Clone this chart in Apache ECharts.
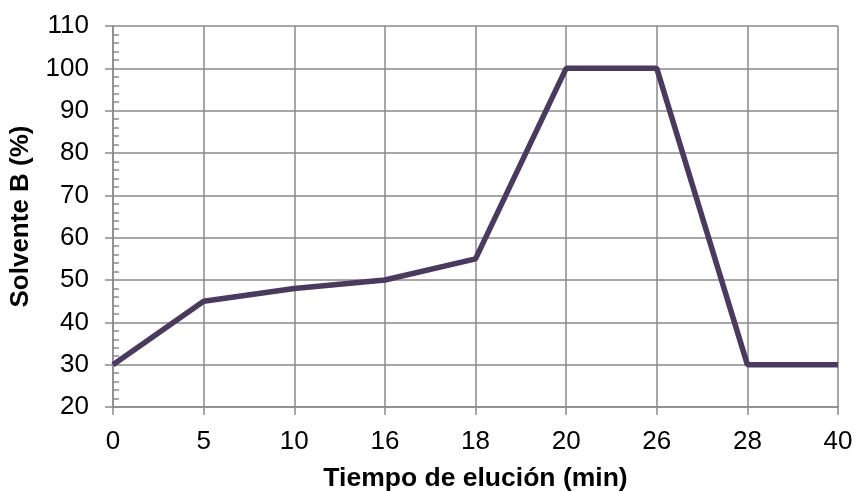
<!DOCTYPE html>
<html><head><meta charset="utf-8">
<script src="https://cdn.jsdelivr.net/npm/echarts@6/dist/echarts.min.js"></script>
<style>html,body{margin:0;padding:0;background:#fff}#c{width:854px;height:491px}</style>
</head><body><div id="c"></div>
<script>
const categories = ['0','5','10','16','18','20','26','28','40'];
const solventeB = [30,45,48,50,55,100,100,30,30];
const yTicks = {min:20, max:110, interval:10};

const chart = echarts.init(document.getElementById('c'));
const font = 'Liberation Sans, Arial, sans-serif';
chart.setOption({
  animation:false,
  grid:{left:113,right:16,top:26,bottom:84,containLabel:false,outerBoundsMode:'none'},
  xAxis:{
    type:'category', data:categories, boundaryGap:false,
    name:'Tiempo de elución (min)', nameLocation:'middle', nameGap:58,
    nameTextStyle:{fontFamily:font,fontSize:26.5,fontWeight:'bold',color:'#000'},
    axisLine:{lineStyle:{color:'#8a8a8a',width:1.5}},
    axisTick:{show:true,length:8,alignWithLabel:true,lineStyle:{color:'#8a8a8a',width:1.5}},
    axisLabel:{fontFamily:font,fontSize:26,color:'#000',margin:22},
    splitLine:{show:true,lineStyle:{color:'#8a8a8a',width:1.5}}
  },
  yAxis:{
    type:'value', min:yTicks.min, max:yTicks.max, interval:yTicks.interval,
    name:'Solvente B (%)', nameLocation:'middle', nameGap:79, nameRotate:90,
    nameTextStyle:{fontFamily:font,fontSize:26,fontWeight:'bold',color:'#000'},
    axisLine:{show:true,lineStyle:{color:'#8a8a8a',width:1.5}},
    axisTick:{show:true,length:8,lineStyle:{color:'#8a8a8a',width:1.5}},
    minorTick:{show:true,splitNumber:5,length:-6,lineStyle:{color:'#8a8a8a',width:1.5}},
    axisLabel:{fontFamily:font,fontSize:26,color:'#000',margin:24},
    splitLine:{show:true,lineStyle:{color:'#8a8a8a',width:1.5}}
  },
  series:[{
    type:'line', data:solventeB, symbol:'none',
    lineStyle:{color:'#4a3a60',width:5.5}
  }]
});
</script></body></html>
